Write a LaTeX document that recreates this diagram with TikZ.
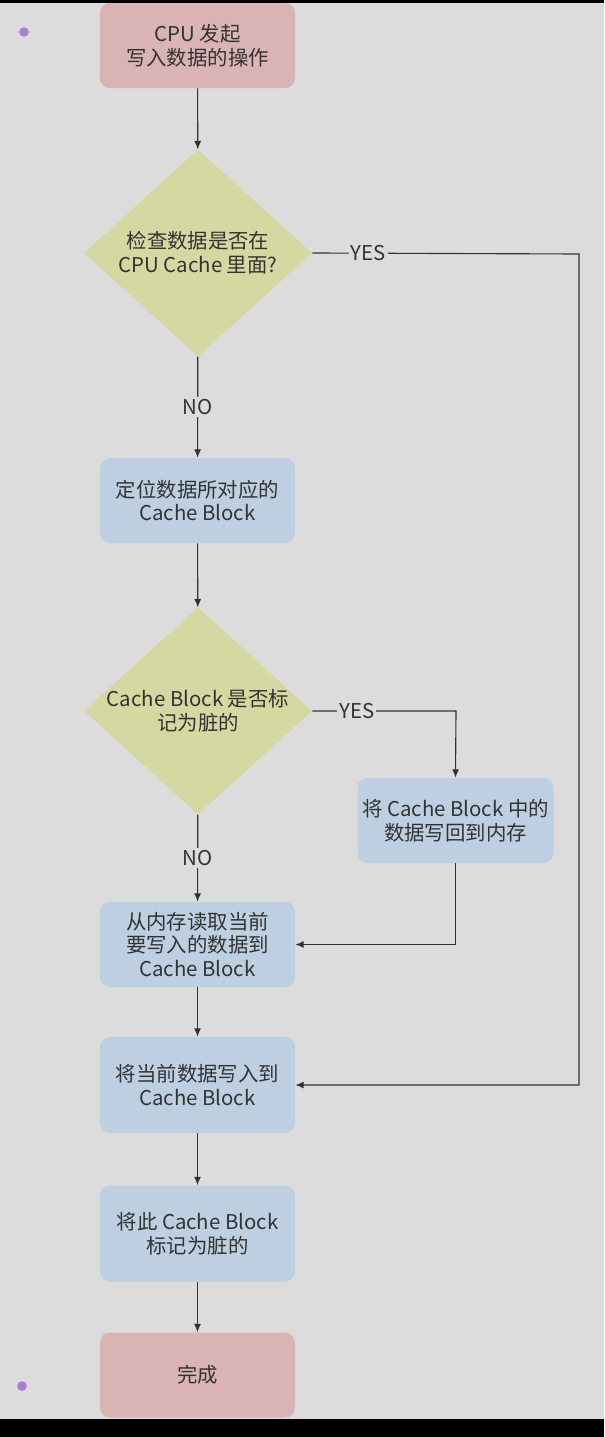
\documentclass[tikz,border=0pt]{standalone}
\usepackage{fontspec}
\setmainfont{Noto Sans CJK SC}
\usetikzlibrary{shapes.geometric,arrows.meta,positioning}
\definecolor{bgGray}{HTML}{DCDCDC}
\definecolor{endPink}{HTML}{DAB4B4}
\definecolor{stepBlue}{HTML}{BDCFE0}
\definecolor{askYellow}{HTML}{D6D8A1}
\definecolor{dotPurple}{HTML}{A77ED0}
\definecolor{inkGray}{HTML}{333333}

\begin{document}
\begin{tikzpicture}[x=0.025cm, y=-0.025cm,
    txt/.style={text=inkGray, font=\fontsize{14.5}{17}\selectfont},
    box/.style={txt, rounded corners=0.25cm, minimum width=4.875cm, minimum height=2.125cm, align=center},
    endbox/.style={box, fill=endPink},
    stepbox/.style={box, fill=stepBlue},
    ask/.style={txt, diamond, fill=askYellow, minimum width=5.7cm, minimum height=5.175cm, inner sep=-8pt, align=center},
    flow/.style={draw=inkGray, line width=0.8pt, -{Latex[length=6pt,width=5pt]}},
    tag/.style={txt, fill=bgGray, inner sep=1.5pt}]
    % page and frame bars
    \useasboundingbox (0,0) rectangle (604,1437);
    \fill[bgGray] (0,0) rectangle (604,1437);
    \fill[dotPurple] (24,32) circle (0.12cm);
    \fill[dotPurple] (22,1386) circle (0.12cm);

    % nodes
    \node[endbox] (start) at (197.5,45.5) {CPU 发起\\写入数据的操作};
    \node[ask] (check) at (198,253) {检查数据是否在\\CPU Cache 里面?};
    \node[stepbox] (locate) at (197.5,500.5) {定位数据所对应的\\Cache Block};
    \node[ask] (dirty) at (198,711) {Cache Block 是否标\\记为脏的};
    \node[stepbox] (flush) at (455.5,820.5) {将 Cache Block 中的\\数据写回到内存};
    \node[stepbox] (fetch) at (197.5,944.5) {从内存读取当前\\要写入的数据到\\Cache Block};
    \node[stepbox, minimum height=2.4cm] (write) at (197.5,1085) {将当前数据写入到\\Cache Block};
    \node[stepbox, minimum height=2.4cm] (mark) at (197.5,1233.5) {将此 Cache Block\\标记为脏的};
    \node[endbox] (done) at (197.5,1375) {完成};

    \coordinate (hitTurn) at (579,254);
    \coordinate (dirtyTurn) at (456,711);

    % connectors
    \draw[flow] (start) -- (check);
    \draw[flow] (check) -- node[tag] {NO} (locate);
    \draw[flow] (check.east) -- node[tag, pos=0.21] {YES} (hitTurn) |- (write.east);
    \draw[flow] (locate) -- (dirty);
    \draw[flow] (dirty.east) -- node[tag, pos=0.31] {YES} (dirtyTurn) -- (flush.north);
    \draw[flow] (dirty) -- node[tag] {NO} (fetch);
    \draw[flow] (flush.south) |- (fetch.east);
    \draw[flow] (fetch) -- (write);
    \draw[flow] (write) -- (mark);
    \draw[flow] (mark) -- (done);

    \fill[black] (0,0) rectangle (604,3);
    \fill[black] (0,1419) rectangle (604,1437);
\end{tikzpicture}
\end{document}
